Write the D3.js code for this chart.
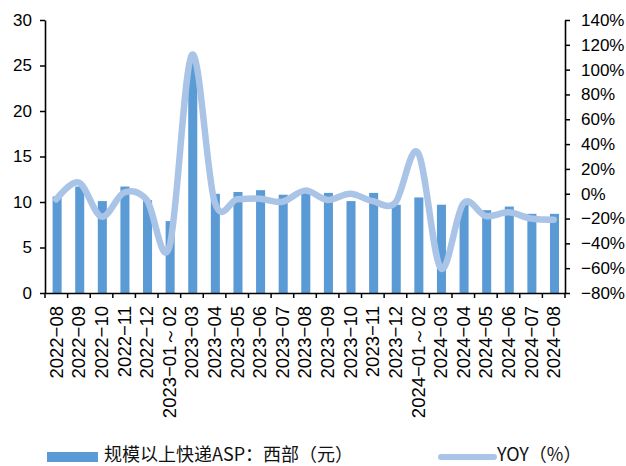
<!DOCTYPE html>
<html>
<head>
<meta charset="utf-8">
<script src="https://cdn.jsdelivr.net/npm/d3@7"></script>
<style>
  html, body { margin: 0; padding: 0; background: #fff; }
  svg { display: block; }
</style>
</head>
<body>
<svg id="chart" width="626" height="466"></svg>
<script>
const categories = ["2022−08","2022−09","2022−10","2022−11","2022−12","2023−01～02","2023−03","2023−04","2023−05","2023−06","2023−07","2023−08","2023−09","2023−10","2023−11","2023−12","2024−01～02","2024−03","2024−04","2024−05","2024−06","2024−07","2024−08"];
const aspValues = [10.6, 11.7, 10.1, 11.7, 10.2, 7.9, 25.5, 10.9, 11.1, 11.3, 10.8, 11.1, 11.0, 10.1, 11.0, 9.7, 10.5, 9.7, 9.7, 9.1, 9.5, 8.7, 8.7];
const yoyValues = [-4.5, 9, -18.5, 1, -5, -43, 112, -6.5, -4.5, -4, -6.5, 2.5, -5, 0, -6, -7, 33, -60, -8, -18, -15, -20, -21];
const leftTicks = [0, 5, 10, 15, 20, 25, 30];
const rightTicks = [-80, -60, -40, -20, 0, 20, 40, 60, 80, 100, 120, 140];
const seriesNames = ["规模以上快递ASP：西部（元）", "YOY（%）"];

const barColor = "#5B9BD5";
const lineColor = "#A9C4E6";
const svg = d3.select("#chart");

const mLeft = 45, mRight = 565, mTop = 20, mBottom = 293;

const x = d3.scaleBand().domain(categories).range([mLeft, mRight]).padding(0);
const yL = d3.scaleLinear().domain([0, 30]).range([mBottom, mTop]);
const yR = d3.scaleLinear().domain([-80, 140]).range([mBottom, mTop]);

// bars
const bw = x.bandwidth() * 0.4;
svg.append("g").selectAll("rect").data(categories).join("rect")
  .attr("x", (d) => x(d) + x.bandwidth() / 2 - bw / 2 + 0.8)
  .attr("width", bw)
  .attr("y", (d, i) => yL(aspValues[i]))
  .attr("height", (d, i) => yL(0) - yL(aspValues[i]))
  .attr("fill", barColor);

// line
const line = d3.line()
  .x((d, i) => x(categories[i]) + x.bandwidth() / 2)
  .y((d) => yR(d))
  .curve(d3.curveCardinal.tension(0));
svg.append("path").datum(yoyValues)
  .attr("d", line)
  .attr("fill", "none")
  .attr("stroke", lineColor)
  .attr("stroke-width", 6.5)
  .attr("stroke-linecap", "round")
  .attr("stroke-linejoin", "round");

const fmtPct = (v) => (v < 0 ? "−" + Math.abs(v) : v) + "%";

// left axis
const gL = svg.append("g").attr("transform", `translate(${mLeft},0)`)
  .call(d3.axisLeft(yL).tickValues(leftTicks).tickSize(5).tickPadding(8).tickSizeOuter(0));
// right axis
const gR = svg.append("g").attr("transform", `translate(${mRight},0)`)
  .call(d3.axisRight(yR).tickValues(rightTicks).tickSize(5).tickPadding(11).tickSizeOuter(0).tickFormat(fmtPct));
[gL, gR].forEach((g) => {
  g.select(".domain").attr("stroke", "#000").attr("stroke-width", 1.6);
  g.selectAll(".tick line").attr("stroke", "#000").attr("stroke-width", 1.5);
  g.selectAll(".tick text").attr("fill", "#000").attr("font-size", "17px")
    .attr("font-family", "'Liberation Sans', Arial, sans-serif");
});

// bottom axis
const gB = svg.append("g").attr("transform", `translate(0,${mBottom})`)
  .call(d3.axisBottom(x).tickSize(0).tickSizeOuter(0));
gB.select(".domain").attr("stroke", "#000").attr("stroke-width", 1.6);
gB.selectAll(".tick text")
  .attr("transform", "translate(0,13) rotate(-90)")
  .attr("x", 0).attr("y", 0).attr("dy", "0.35em")
  .attr("text-anchor", "end")
  .attr("fill", "#000")
  .attr("font-size", "18.5px")
  .attr("font-family", "'Liberation Sans', Arial, sans-serif");
// boundary ticks
const bounds = categories.map((d) => x(d)).concat([x(categories[categories.length - 1]) + x.bandwidth()]);
gB.selectAll("line.btick").data(bounds).join("line")
  .attr("class", "btick")
  .attr("x1", (d) => d).attr("x2", (d) => d)
  .attr("y1", 0).attr("y2", 5)
  .attr("stroke", "#000").attr("stroke-width", 1.5);

// legend
const lg = svg.append("g");
lg.append("rect").attr("x", 47).attr("y", 452).attr("width", 51).attr("height", 10).attr("fill", barColor);
lg.append("text").attr("x", 104).attr("y", 455).attr("dy", "0.35em")
  .attr("font-size", "18px").attr("font-family", "'Noto Sans CJK SC', sans-serif")
  .attr("fill", "#111").text(seriesNames[0]);
lg.append("line").attr("x1", 441).attr("x2", 494).attr("y1", 457).attr("y2", 457)
  .attr("stroke", lineColor).attr("stroke-width", 6).attr("stroke-linecap", "round");
lg.append("text").attr("x", 497).attr("y", 455).attr("dy", "0.35em")
  .attr("font-size", "18px").attr("font-family", "'Noto Sans CJK SC', sans-serif")
  .attr("fill", "#111").text(seriesNames[1]);
</script>
</body>
</html>
